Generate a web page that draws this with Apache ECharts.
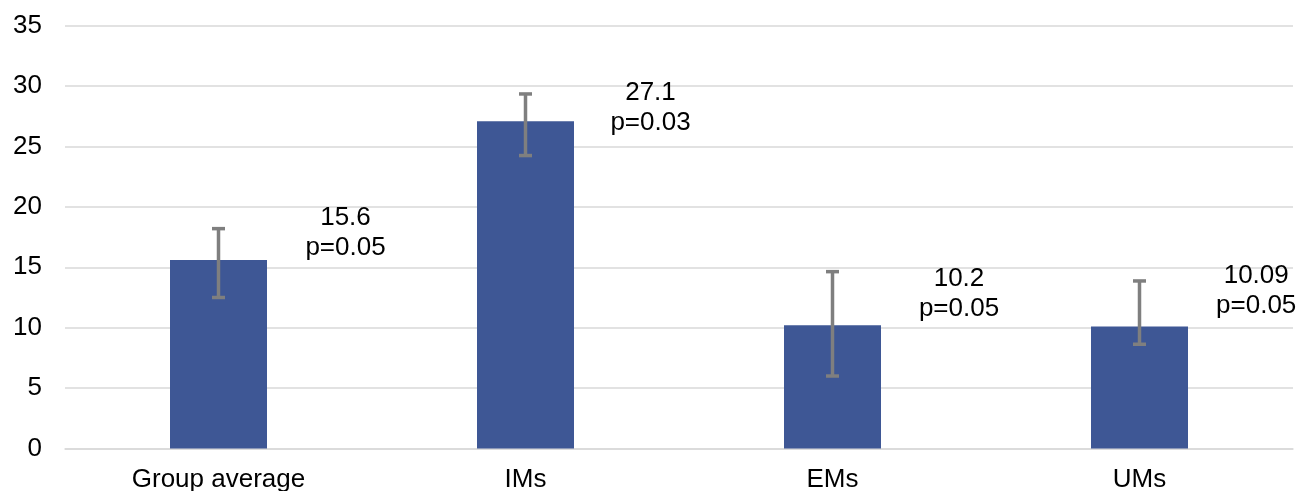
<!DOCTYPE html>
<html>
<head>
<meta charset="utf-8">
<script src="https://cdn.jsdelivr.net/npm/echarts@6/dist/echarts.min.js"></script>
<style>
html,body{margin:0;padding:0;background:#fff;}
#chart{width:1299px;height:491px;}
</style>
</head>
<body>
<div id="chart"></div>
<script>
var categories = ['Group average', 'IMs', 'EMs', 'UMs'];
var means = [15.6, 27.1, 10.2, 10.09];
var errLow = [12.5, 24.25, 6.0, 8.63];
var errHigh = [18.2, 29.35, 14.64, 13.87];
var pValues = ['0.05', '0.03', '0.05', '0.05'];
var yTicks = { min: 0, max: 35, interval: 5 };

// label placement (layout only)
var labelOffsets = [[127, 3], [125, 16.5], [126.5, -1.7], [116.7, -6.2]];

var FONT = 'Liberation Sans, Arial, sans-serif';
var FS = 26;
var chart = echarts.init(document.getElementById('chart'));

var barData = means.map(function (v, i) {
  return { value: v, label: { offset: labelOffsets[i] } };
});
var errData = means.map(function (v, i) {
  return [i, errLow[i], errHigh[i]];
});

chart.setOption({
  animation: false,
  backgroundColor: '#ffffff',
  grid: { left: 65, right: 6, top: 25.7, bottom: 42.5, containLabel: false, outerBoundsMode: 'none' },
  xAxis: {
    type: 'category',
    data: categories,
    axisLine: { show: true, lineStyle: { color: '#d9d9d9', width: 1.5 } },
    axisTick: { show: false },
    axisLabel: { color: '#000', fontSize: FS, fontFamily: FONT, margin: 18, interval: 0 }
  },
  yAxis: {
    type: 'value',
    min: yTicks.min,
    max: yTicks.max,
    interval: yTicks.interval,
    axisLine: { show: false },
    axisTick: { show: false },
    splitLine: { lineStyle: { color: '#d9d9d9', width: 1.5 } },
    axisLabel: { color: '#000', fontSize: FS, fontFamily: FONT, margin: 23 }
  },
  series: [
    {
      type: 'bar',
      data: barData,
      barWidth: 97,
      itemStyle: { color: '#3e5795' },
      label: {
        show: true,
        position: 'top',
        distance: 0,
        color: '#000',
        fontSize: FS,
        lineHeight: 30,
        fontFamily: FONT,
        align: 'center',
        formatter: function (p) {
          return String(means[p.dataIndex]) + '\np=' + pValues[p.dataIndex];
        }
      },
      z: 2
    },
    {
      type: 'custom',
      data: errData,
      encode: { x: 0, y: [1, 2] },
      z: 5,
      renderItem: function (params, api) {
        var x = api.value(0);
        var lo = api.coord([x, api.value(1)]);
        var hi = api.coord([x, api.value(2)]);
        var hw = 6.5;
        var style = { stroke: '#7f7f7f', lineWidth: 3.5, fill: null };
        return {
          type: 'group',
          children: [
            { type: 'line', shape: { x1: hi[0], y1: hi[1], x2: lo[0], y2: lo[1] }, style: style },
            { type: 'line', shape: { x1: hi[0] - hw, y1: hi[1], x2: hi[0] + hw, y2: hi[1] }, style: style },
            { type: 'line', shape: { x1: lo[0] - hw, y1: lo[1], x2: lo[0] + hw, y2: lo[1] }, style: style }
          ]
        };
      }
    }
  ]
});
</script>
</body>
</html>
